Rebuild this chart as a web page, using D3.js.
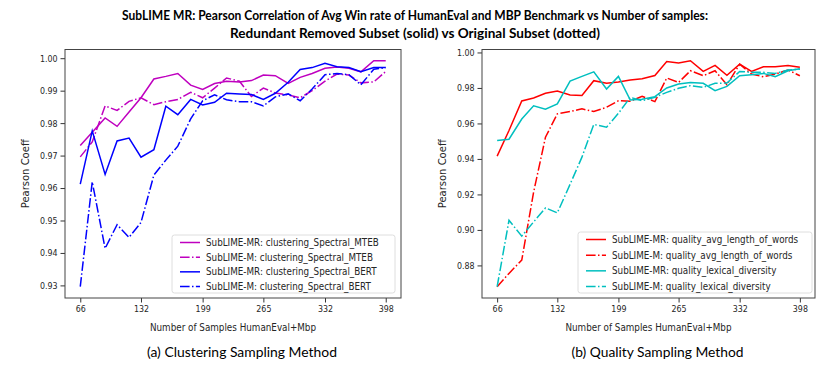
<!DOCTYPE html>
<html>
<head>
<meta charset="utf-8">
<script src="https://cdn.jsdelivr.net/npm/d3@7"></script>
<style>
  body { margin: 0; background: #fff; }
  text { font-family: "DejaVu Sans", sans-serif; fill: #262626; }
  .cap { font-family: Lato, "Open Sans", sans-serif; fill: #000; }
</style>
</head>
<body>
<svg id="chart" width="830" height="368"></svg>
<script>
// number of samples (HumanEval+Mbp) on the x axis
var samples = [66,79,93,106,119,132,146,159,172,186,199,212,225,239,252,265,278,292,305,318,332,345,358,371,385,398]
var xTicks  = [66,132,199,265,332,398]

// (a) clustering sampling
var mtebMR = [0.9731,0.9772,0.9816,0.9790,0.9834,0.9878,0.9936,0.9944,0.9953,0.9917,0.9904,0.9922,0.9929,0.9927,0.9931,0.9948,0.9946,0.9922,0.9941,0.9953,0.9969,0.9973,0.9969,0.9958,0.9992,0.9992]
var mtebM  = [0.9696,0.9742,0.9853,0.9839,0.9867,0.9878,0.9857,0.9866,0.9873,0.9895,0.9878,0.9908,0.9939,0.9929,0.9882,0.9908,0.9893,0.9887,0.9878,0.9900,0.9929,0.9951,0.9948,0.9924,0.9927,0.9959]
var bertMR = [0.9612,0.9776,0.9642,0.9745,0.9754,0.9695,0.9718,0.9852,0.9826,0.9873,0.9856,0.9864,0.9892,0.9890,0.9888,0.9873,0.9892,0.9926,0.9965,0.9971,0.9984,0.9974,0.9971,0.9958,0.9971,0.9971]
var bertM  = [0.9296,0.9619,0.9414,0.9487,0.9448,0.9494,0.9640,0.9686,0.9729,0.9813,0.9869,0.9887,0.9872,0.9866,0.9866,0.9853,0.9881,0.9890,0.9869,0.9905,0.9949,0.9953,0.9949,0.9918,0.9966,0.9971]

// (b) quality sampling
var wordsMR = [0.9416,0.9560,0.9727,0.9743,0.9770,0.9783,0.9760,0.9758,0.9841,0.9826,0.9833,0.9845,0.9852,0.9870,0.9949,0.9940,0.9953,0.9893,0.9927,0.9871,0.9934,0.9893,0.9919,0.9919,0.9927,0.9916]
var wordsM  = [0.8680,0.8755,0.8830,0.9213,0.9522,0.9654,0.9667,0.9682,0.9667,0.9691,0.9728,0.9725,0.9753,0.9723,0.9856,0.9831,0.9897,0.9869,0.9897,0.9818,0.9934,0.9878,0.9863,0.9878,0.9901,0.9869]
var lexMR   = [0.9504,0.9511,0.9625,0.9699,0.9680,0.9710,0.9839,0.9865,0.9891,0.9794,0.9865,0.9732,0.9736,0.9751,0.9800,0.9822,0.9831,0.9826,0.9785,0.9809,0.9869,0.9875,0.9882,0.9863,0.9897,0.9908]
var lexM    = [0.8680,0.9054,0.8965,0.9045,0.9124,0.9096,0.9257,0.9410,0.9594,0.9579,0.9657,0.9747,0.9728,0.9747,0.9775,0.9798,0.9813,0.9803,0.9826,0.9828,0.9893,0.9888,0.9888,0.9882,0.9901,0.9906]

var titleLines = ["SubLIME MR: Pearson Correlation of Avg Win rate of HumanEval and MBP Benchmark vs Number of samples:",
                  "Redundant Removed Subset (solid) vs Original Subset (dotted)"]

var dashDot = "9.6,2.4,1.5,2.4"

var panels = [
  { left: 65, right: 401, caption: "(a) Clustering Sampling Method", capW: 190,
    yTicks: d3.range(0.93, 1.0001, 0.01),
    legend: { x: 172, y: 235, w: 223, h: 58 },
    series: [
      { name: "SubLIME-MR: clustering_Spectral_MTEB", vals: mtebMR, color: "#bf00bf", dash: null },
      { name: "SubLIME-M: clustering_Spectral_MTEB",  vals: mtebM,  color: "#bf00bf", dash: dashDot },
      { name: "SubLIME-MR: clustering_Spectral_BERT", vals: bertMR, color: "#0000ff", dash: null },
      { name: "SubLIME-M: clustering_Spectral_BERT",  vals: bertM,  color: "#0000ff", dash: dashDot }
    ] },
  { left: 482, right: 815, caption: "(b) Quality Sampling Method", capW: 172,
    yTicks: d3.range(0.88, 1.0001, 0.02),
    legend: { x: 578, y: 232, w: 234, h: 61 },
    series: [
      { name: "SubLIME-MR: quality_avg_length_of_words", vals: wordsMR, color: "#ff0000", dash: null },
      { name: "SubLIME-M: quality_avg_length_of_words",  vals: wordsM,  color: "#ff0000", dash: dashDot },
      { name: "SubLIME-MR: quality_lexical_diversity",   vals: lexMR,   color: "#00bfbf", dash: null },
      { name: "SubLIME-M: quality_lexical_diversity",    vals: lexM,    color: "#00bfbf", dash: dashDot }
    ] }
]

var svg = d3.select("#chart")
var plotTop = 49.5, plotBottom = 298

// title (two lines, bold)
svg.selectAll(".title")
  .data(titleLines)
  .enter().append("text")
    .attr("class", "cap")
    .attr("x", 415)
    .attr("y", (d, i) => 20 + i * 18)
    .attr("text-anchor", "middle")
    .attr("font-size", 13)
    .attr("font-weight", "bold")
    .attr("textLength", (d, i) => i == 0 ? 586 : 370)
    .attr("lengthAdjust", "spacingAndGlyphs")
    .text(d => d)

// squeeze text horizontally around its anchor point
function squish(sel, k) {
  sel.each(function () {
    var t = d3.select(this)
    var x = +t.attr("x") || 0, y = +t.attr("y") || 0
    t.attr("transform", "translate(" + x + "," + y + ") scale(" + k + ",1) translate(" + (-x) + "," + (-y) + ")")
  })
}

panels.forEach(function (p) {
  var allVals = d3.merge(p.series.map(s => s.vals))
  var ext = d3.extent(allVals), pad = (ext[1] - ext[0]) * 0.05
  var xPad = (samples[samples.length - 1] - samples[0]) * 0.05

  var x = d3.scaleLinear()
    .domain([samples[0] - xPad, samples[samples.length - 1] + xPad])
    .range([p.left, p.right])
  var y = d3.scaleLinear()
    .domain([ext[0] - pad, ext[1] + pad])
    .range([plotBottom, plotTop])

  var g = svg.append("g")

  // axes
  var xa = g.append("g")
    .attr("transform", "translate(0," + plotBottom + ")")
    .call(d3.axisBottom(x).tickValues(xTicks).tickFormat(d3.format("d")).tickSize(4.5).tickPadding(3))
  var ya = g.append("g")
    .attr("transform", "translate(" + p.left + ",0)")
    .call(d3.axisLeft(y).tickValues(p.yTicks).tickFormat(d3.format(".2f")).tickSize(4.5).tickPadding(3))
  ;[xa, ya].forEach(function (a) {
    a.select(".domain").remove()
    a.selectAll(".tick line").attr("stroke", "#333")
    a.selectAll(".tick text").attr("font-size", 9).attr("fill", "#262626")
      .attr("font-family", "DejaVu Sans")
    squish(a.selectAll(".tick text"), 0.88)
  })

  // lines
  var line = d3.line()
    .x((d, i) => x(samples[i]))
    .y(d => y(d))

  g.selectAll(".series")
    .data(p.series)
    .enter().append("path")
      .attr("d", d => line(d.vals))
      .attr("fill", "none")
      .attr("stroke", d => d.color)
      .attr("stroke-width", 1.5)
      .attr("stroke-dasharray", d => d.dash)

  // frame
  g.append("rect")
    .attr("x", p.left).attr("y", plotTop)
    .attr("width", p.right - p.left).attr("height", plotBottom - plotTop)
    .attr("fill", "none").attr("stroke", "#444").attr("stroke-width", 1)

  // legend
  var L = p.legend
  var lg = g.append("g").attr("transform", "translate(" + L.x + "," + L.y + ")")
  lg.append("rect")
    .attr("width", L.w).attr("height", L.h).attr("rx", 2.5)
    .attr("fill", "#fff").attr("fill-opacity", 0.8)
    .attr("stroke", "#d5d5d5").attr("stroke-width", 0.8)
  var step = (L.h - 14) / 3
  var items = lg.selectAll(".item")
    .data(p.series)
    .enter().append("g")
      .attr("transform", (d, i) => "translate(0," + (7.5 + i * step) + ")")
  items.append("line")
    .attr("x1", 8).attr("x2", 28)
    .attr("stroke", d => d.color).attr("stroke-width", 1.5)
    .attr("stroke-dasharray", d => d.dash)
  var lt = items.append("text")
    .attr("x", 34).attr("y", 3.5)
    .attr("font-size", 10)
    .text(d => d.name)
  squish(lt, 0.88)

  // axis titles
  var xl = g.append("text")
    .attr("x", (p.left + p.right) / 2).attr("y", 331)
    .attr("text-anchor", "middle").attr("font-size", 10)
    .text("Number of Samples HumanEval+Mbp")
  squish(xl, 0.88)
  g.append("text")
    .attr("transform", "translate(" + (p.left - 36) + "," + ((plotTop + plotBottom) / 2) + ") rotate(-90)")
    .attr("text-anchor", "middle").attr("font-size", 10)
    .text("Pearson Coeff")

  // caption under the panel
  g.append("text")
    .attr("class", "cap")
    .attr("x", (p.left + p.right) / 2 + 9).attr("y", 357)
    .attr("text-anchor", "middle").attr("font-size", 14)
    .attr("textLength", p.capW).attr("lengthAdjust", "spacingAndGlyphs")
    .text(p.caption)
})
</script>
</body>
</html>
